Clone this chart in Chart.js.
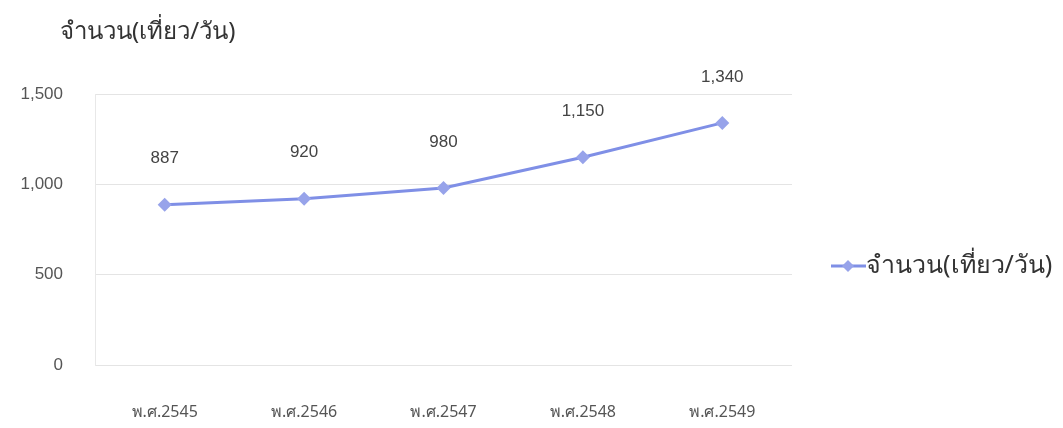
<!DOCTYPE html>
<html>
<head>
<meta charset="utf-8">
<script src="https://cdn.jsdelivr.net/npm/chart.js@4"></script>
<style>
  html, body { margin: 0; padding: 0; background: #fff; }
  #wrap { width: 1063px; height: 428px; }
</style>
</head>
<body>
<div id="wrap"><canvas id="chart"></canvas></div>
<script>
// data
const years = ['พ.ศ.2545', 'พ.ศ.2546', 'พ.ศ.2547', 'พ.ศ.2548', 'พ.ศ.2549'];
const trips = [887, 920, 980, 1150, 1340];
const seriesName = 'จำนวน(เที่ยว/วัน)';
const yTicks = [0, 500, 1000, 1500];

const lineColor = '#7f8fe6';
const numFont = "'Liberation Sans', Arial, sans-serif";
const thaiFont = "'Noto Sans', 'DejaVu Sans', sans-serif";

// value labels above each point, title and legend drawn by hand
const extras = {
    id: 'extras',
    afterDatasetsDraw(chart) {
        const ctx = chart.ctx;
        const meta = chart.getDatasetMeta(0);
        ctx.save();
        ctx.fillStyle = '#444';
        ctx.font = '17px ' + numFont;
        ctx.textAlign = 'center';
        ctx.textBaseline = 'middle';
        meta.data.forEach((pt, i) => {
            ctx.fillText(trips[i].toLocaleString('en-US'), pt.x, pt.y - 46);
        });

        // title
        ctx.fillStyle = '#333';
        ctx.font = '24px ' + thaiFont;
        ctx.textAlign = 'left';
        ctx.fillText(seriesName, 60, 32);

        // legend
        const ly = 266;
        ctx.strokeStyle = lineColor;
        ctx.lineWidth = 3;
        ctx.beginPath();
        ctx.moveTo(831, ly);
        ctx.lineTo(866, ly);
        ctx.stroke();
        ctx.fillStyle = '#97a3ea';
        ctx.beginPath();
        ctx.moveTo(848, ly - 6);
        ctx.lineTo(854, ly);
        ctx.lineTo(848, ly + 6);
        ctx.lineTo(842, ly);
        ctx.closePath();
        ctx.fill();
        ctx.fillStyle = '#333';
        ctx.font = '25px ' + thaiFont;
        ctx.fillText(seriesName, 866, ly);
        ctx.restore();
    }
};

new Chart(document.getElementById('chart'), {
    type: 'line',
    data: {
        labels: years,
        datasets: [{
            label: seriesName,
            data: trips,
            borderColor: lineColor,
            backgroundColor: '#97a3ea',
            borderWidth: 3,
            pointStyle: 'rectRot',
            pointRadius: 7,
            pointBorderWidth: 0,
            tension: 0
        }]
    },
    options: {
        responsive: true,
        maintainAspectRatio: false,
        animation: false,
        layout: { padding: { top: 94, right: 271, bottom: 0, left: 8 } },
        plugins: {
            legend: { display: false },
            title: { display: false },
            tooltip: { enabled: false }
        },
        scales: {
            x: {
                offset: true,
                grid: { display: false },
                border: { display: false },
                afterFit: (scale) => { scale.height = 63; },
                ticks: {
                    padding: 30,
                    color: '#555',
                    font: { size: 16, family: "'Liberation Sans Narrow', " + thaiFont }
                }
            },
            y: {
                min: 0,
                max: 1500,
                afterFit: (scale) => { scale.width = 87; },
                afterBuildTicks: (scale) => { scale.ticks = yTicks.map(v => ({ value: v })); },
                grid: { color: '#e4e4e4', drawTicks: false },
                border: { color: '#e8e8e8' },
                ticks: {
                    padding: 32,
                    color: '#555',
                    font: { size: 17, family: numFont },
                    callback: (v) => v.toLocaleString('en-US')
                }
            }
        }
    },
    plugins: [extras]
});
</script>
</body>
</html>
